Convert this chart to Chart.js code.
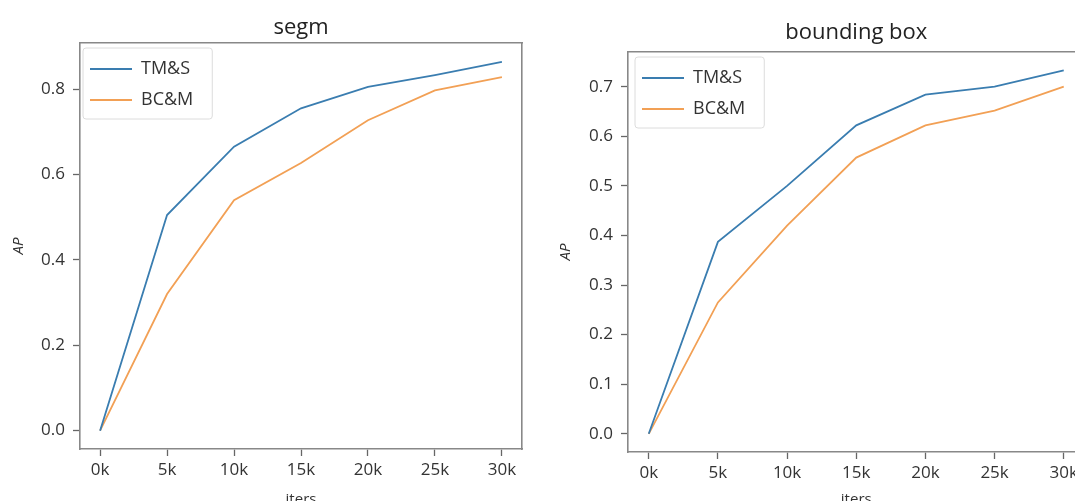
<!DOCTYPE html>
<html>
<head>
<meta charset="utf-8">
<script src="https://cdn.jsdelivr.net/npm/chart.js@4.4.1/dist/chart.umd.min.js"></script>
<style>
  html, body { margin: 0; padding: 0; background: #fff; overflow: hidden; }
  #wrap { position: relative; width: 1075px; height: 501px; overflow: hidden; }
  canvas { position: absolute; top: 0; }
</style>
</head>
<body>
<div id="wrap">
  <canvas id="segmChart" width="540" height="512" style="left:0"></canvas>
  <canvas id="bboxChart" width="545" height="512" style="left:540px"></canvas>
</div>
<script>
const iters = [0, 5000, 10000, 15000, 20000, 25000, 30000];
const xTickLabels = ['0k', '5k', '10k', '15k', '20k', '25k', '30k'];

const segmTMS = [0.0, 0.505, 0.665, 0.755, 0.805, 0.833, 0.864];
const segmBCM = [0.0, 0.32, 0.54, 0.627, 0.727, 0.797, 0.828];
const segmTicks = [0.0, 0.2, 0.4, 0.6, 0.8];

const bboxTMS = [0.0, 0.387, 0.50, 0.622, 0.684, 0.70, 0.733];
const bboxBCM = [0.0, 0.265, 0.42, 0.557, 0.622, 0.652, 0.70];
const bboxTicks = [0.0, 0.1, 0.2, 0.3, 0.4, 0.5, 0.6, 0.7];

const blue = '#3a7db0';
const orange = '#f2a055';
const font = "'Open Sans', 'Noto Sans', sans-serif";

// legend in chartArea gets top = 0, move it down into the plot box
const legendInside = {
    id: 'legendInside',
    afterLayout(chart, args, opts) {
        const lg = chart.legend;
        const dy = chart.chartArea.top - lg.top + 4;
        const dx = chart.chartArea.left - lg.left + opts.dx;
        lg.top += dy; lg.bottom += dy;
        lg.left += dx; lg.right += dx;
    },
    // matplotlib-like frame, drawn before the legend itself
    beforeDraw(chart) {
        const boxes = chart.legend && chart.legend.legendHitBoxes;
        if (!boxes || !boxes.length) return;
        let l = Infinity, t = Infinity, r = -Infinity, b = -Infinity;
        boxes.forEach(h => {
            l = Math.min(l, h.left); t = Math.min(t, h.top);
            r = Math.max(r, h.left + h.width); b = Math.max(b, h.top + h.height);
        });
        const ctx = chart.ctx;
        ctx.save();
        ctx.beginPath();
        ctx.roundRect(l - 7, t - 12, r - l + 26, b - t + 22, 3);
        ctx.fillStyle = 'rgba(255,255,255,0.8)';
        ctx.fill();
        ctx.strokeStyle = '#dcdcdc';
        ctx.lineWidth = 1;
        ctx.stroke();
        ctx.restore();
    }
};

function makeChart(id, cfg) {
    const toPoints = vals => vals.map((v, i) => ({ x: iters[i], y: v }));
    const line = (label, vals, color) => ({
        label: label,
        data: toPoints(vals),
        borderColor: color,
        backgroundColor: color,
        borderWidth: 1.8,
        pointRadius: 0,
        tension: 0
    });

    new Chart(document.getElementById(id), {
        type: 'line',
        data: {
            datasets: [
                line('TM&S', cfg.tms, blue),
                line('BC&M', cfg.bcm, orange)
            ]
        },
        options: {
            responsive: false,
            animation: false,
            layout: { padding: { left: 0, right: cfg.padRight, top: 0, bottom: 0 } },
            plugins: {
                tooltip: { enabled: false },
                legendInside: { dx: cfg.legendDx },
                title: {
                    display: true,
                    fullSize: false,
                    text: cfg.title,
                    color: '#222',
                    font: { family: font, size: 22, weight: 'normal' },
                    padding: cfg.titlePad
                },
                legend: {
                    position: 'chartArea',
                    align: 'start',
                    labels: {
                        usePointStyle: true,
                        pointStyle: 'line',
                        pointStyleWidth: 42,
                        padding: 13,
                        color: '#333',
                        font: { family: font, size: 18 }
                    }
                }
            },
            scales: {
                x: {
                    type: 'linear',
                    min: -1500,
                    max: 31500,
                    afterBuildTicks: s => { s.ticks = iters.map(v => ({ value: v })); },
                    afterFit: s => { s.height = cfg.xHeight; },
                    ticks: {
                        padding: 3.8,
                        color: '#333',
                        font: { family: font, size: 17 },
                        maxRotation: 0,
                        callback: (v) => xTickLabels[iters.indexOf(v)]
                    },
                    grid: { drawOnChartArea: false, tickLength: 7, tickColor: '#666', tickWidth: 1.3 },
                    border: { color: '#888', width: 1.6 },
                    title: {
                        display: true, text: 'iters', color: '#333',
                        font: { family: font, size: 15 }, padding: { top: 0, bottom: 3 }
                    }
                },
                xTop: {
                    type: 'linear', position: 'top', min: 0, max: 1,
                    afterFit: s => { s.height = 0; },
                    ticks: { display: false },
                    grid: { display: false },
                    border: { color: '#888', width: 1.6 }
                },
                y: {
                    type: 'linear',
                    min: cfg.yMin,
                    max: cfg.yMax,
                    afterBuildTicks: s => { s.ticks = cfg.yTicks.map(v => ({ value: v })); },
                    afterFit: s => { s.width = cfg.yWidth; },
                    ticks: {
                        padding: 8,
                        color: '#333',
                        font: { family: font, size: 17 },
                        callback: v => v.toFixed(1)
                    },
                    grid: { drawOnChartArea: false, tickLength: 7, tickColor: '#666', tickWidth: 1.3 },
                    border: { color: '#888', width: 1.6 },
                    title: {
                        display: true, text: 'AP', color: '#333',
                        font: { family: font, size: 15, style: 'italic' }, padding: { top: cfg.yTitlePad, bottom: 0 }
                    }
                },
                yRight: {
                    type: 'linear', position: 'right', min: 0, max: 1,
                    afterFit: s => { s.width = 0; },
                    ticks: { display: false },
                    grid: { display: false },
                    border: { color: '#888', width: 1.6 }
                }
            }
        },
        plugins: [legendInside]
    });
}

makeChart('segmChart', {
    title: 'segm',
    tms: segmTMS, bcm: segmBCM,
    yTicks: segmTicks, yMin: -0.043, yMax: 0.908,
    titlePad: { top: 14.8, bottom: 1.8 },
    xHeight: 63, yWidth: 80, padRight: 18, yTitlePad: 10, legendDx: -3
});

makeChart('bboxChart', {
    title: 'bounding box',
    tms: bboxTMS, bcm: bboxBCM,
    yTicks: bboxTicks, yMin: -0.0367, yMax: 0.77,
    titlePad: { top: 19.8, bottom: 5.8 },
    xHeight: 60, yWidth: 88, padRight: 0.5, yTitlePad: 17, legendDx: 1
});
</script>
</body>
</html>
